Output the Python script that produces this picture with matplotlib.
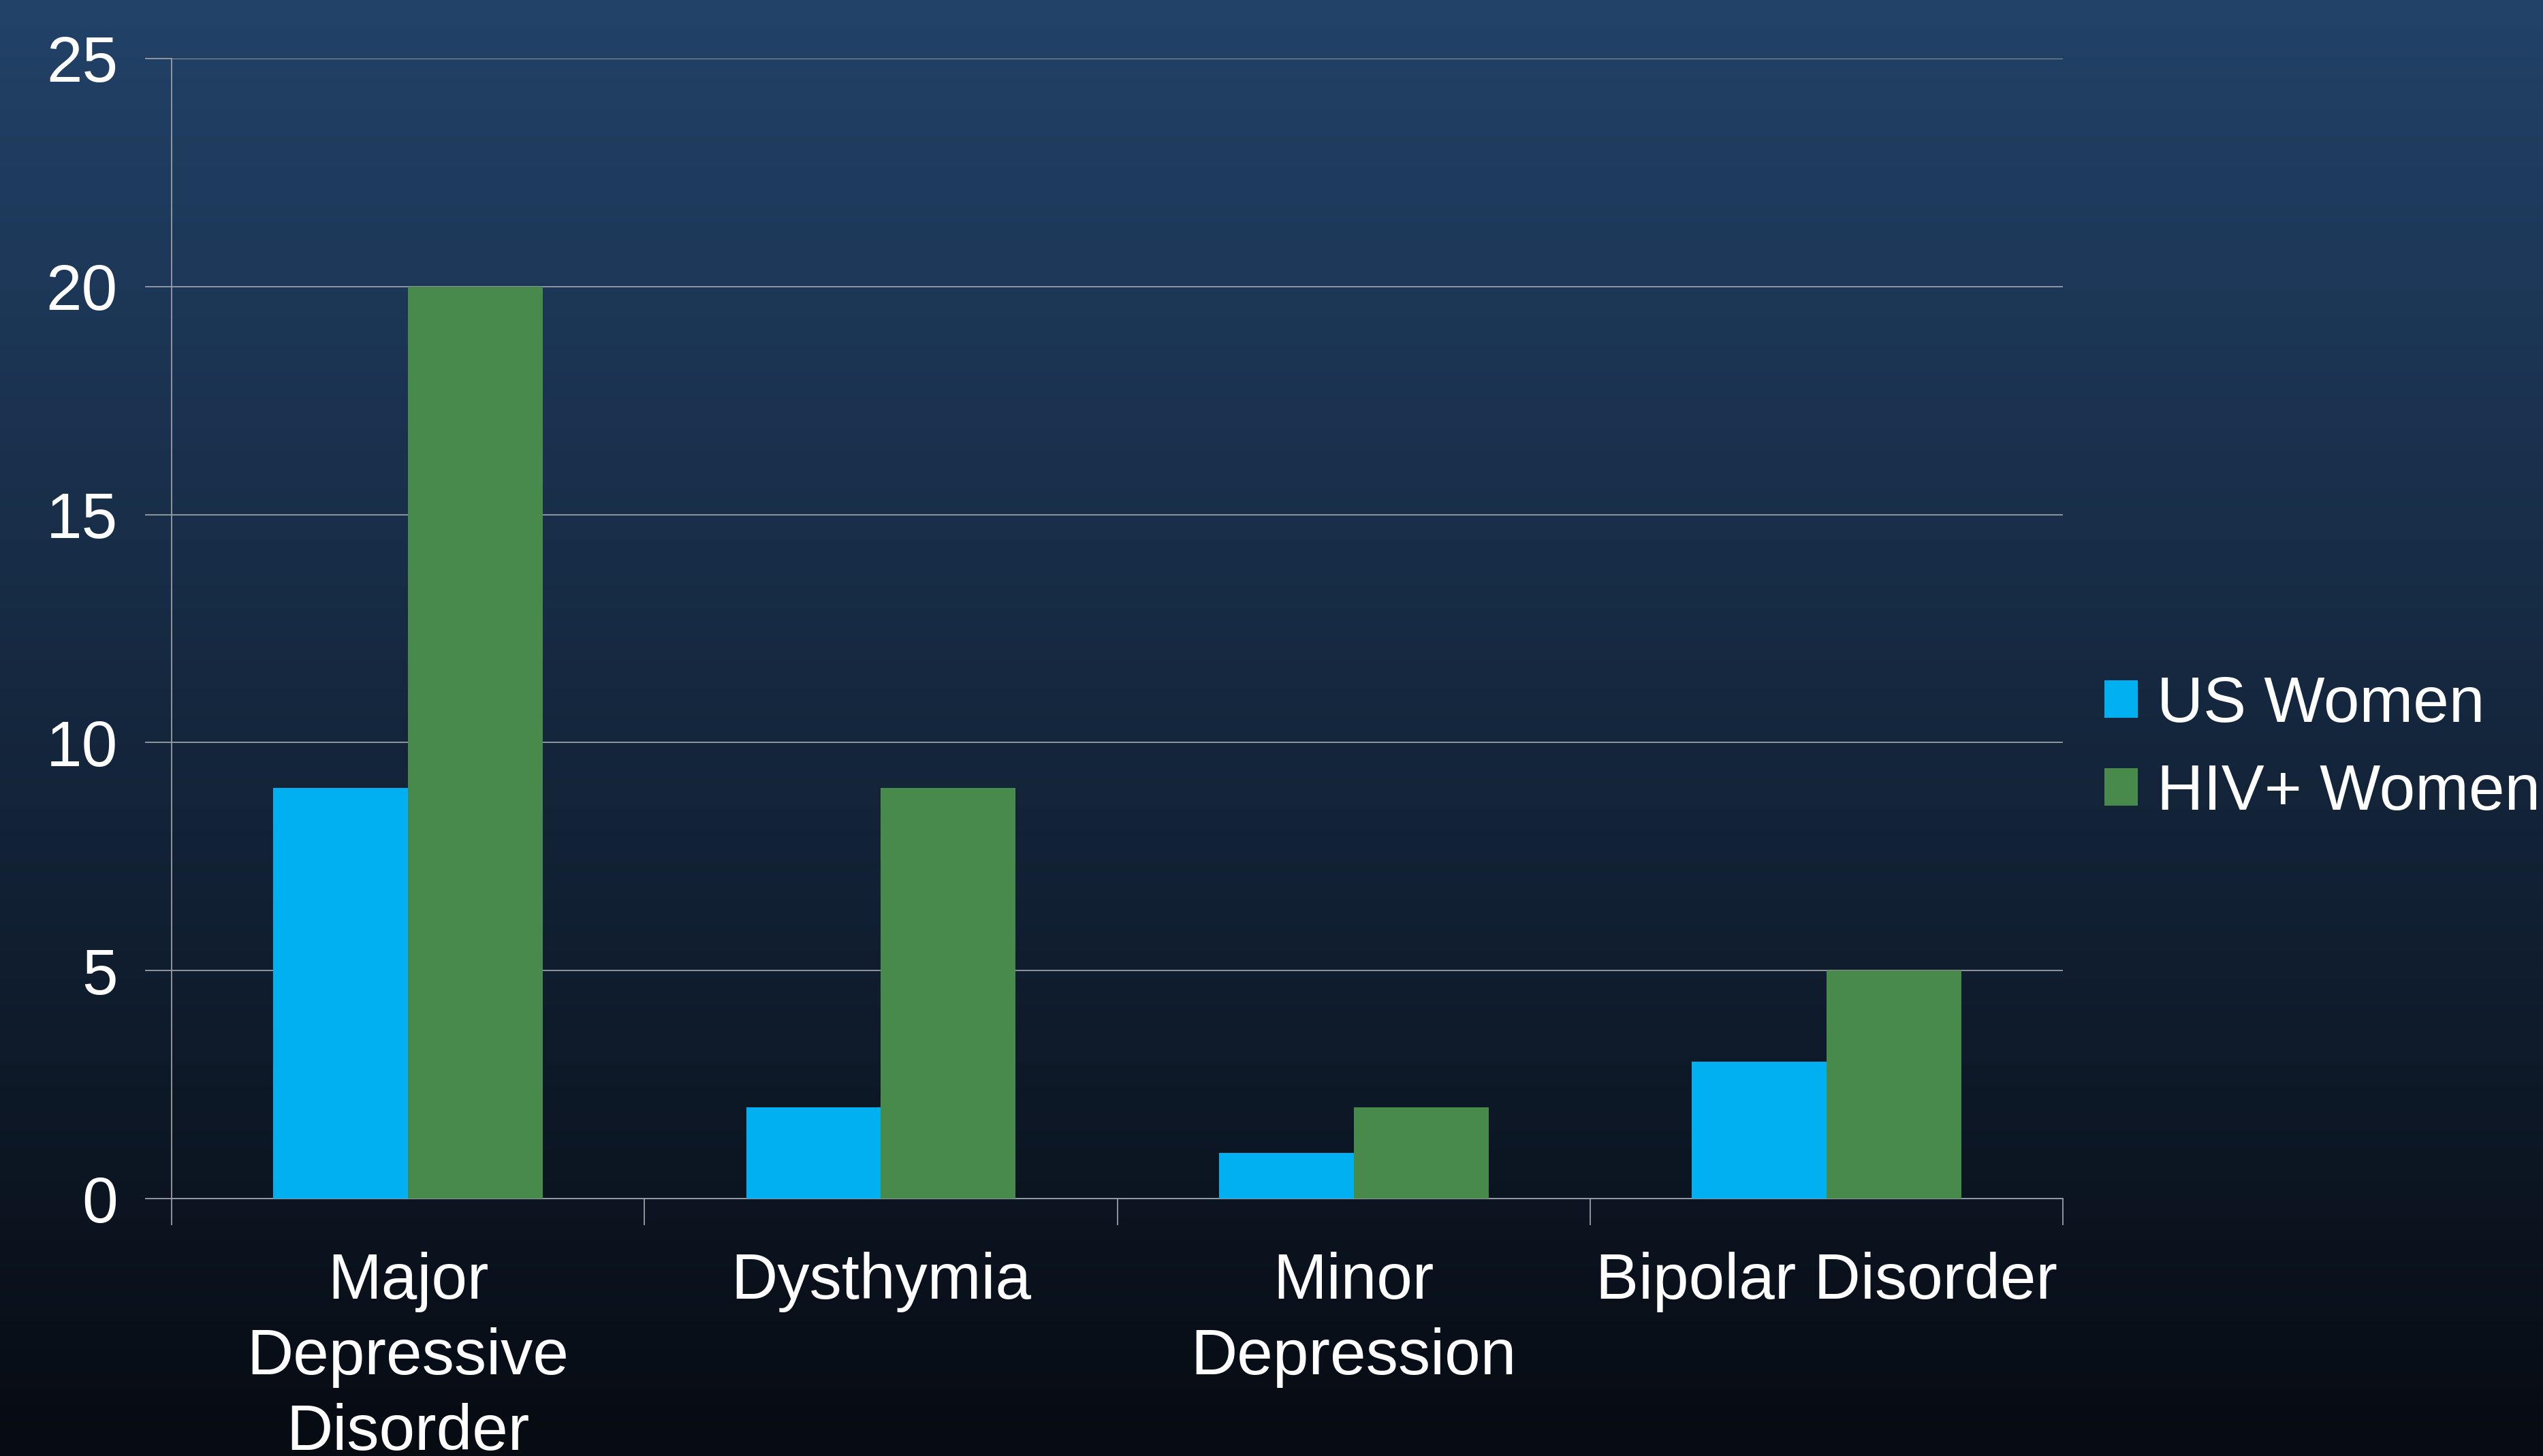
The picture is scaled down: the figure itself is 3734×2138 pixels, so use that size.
import numpy as np
import matplotlib
matplotlib.use('Agg')
import matplotlib.pyplot as plt
from matplotlib.colors import LinearSegmentedColormap

# data
categories = ['Major\nDepressive\nDisorder', 'Dysthymia', 'Minor\nDepression', 'Bipolar Disorder']
us_women = [9, 2, 1, 3]
hiv_women = [20, 9, 2, 5]
series_names = ['US Women', 'HIV+ Women']
y_ticks = [0, 5, 10, 15, 20, 25]

plt.rcParams['font.family'] = ['Liberation Sans', 'DejaVu Sans']

fig = plt.figure(figsize=(37.34, 21.38), dpi=100)

# background gradient (dark blue at top to near black at bottom)
bg = fig.add_axes([0, 0, 1, 1], zorder=-10)
grad = LinearSegmentedColormap.from_list('bg', ['#070b12', '#224268'])
bg.imshow(np.linspace(0, 1, 256).reshape(-1, 1), cmap=grad, aspect='auto',
          origin='lower', extent=[0, 1, 0, 1])
bg.axis('off')

ax = fig.add_axes([0.0675, 0.1768, 0.7437, 0.783])
ax.patch.set_alpha(0)

x = np.arange(len(categories))
w = 0.285
ax.bar(x - w / 2, us_women, w, color='#00b0f0', label=series_names[0], zorder=3)
ax.bar(x + w / 2, hiv_women, w, color='#478a4c', label=series_names[1], zorder=3)

ax.set_xlim(-0.5, len(categories) - 0.5)
ax.set_ylim(0, 25)
ax.set_yticks(y_ticks)
ax.yaxis.grid(True, color='#9a9ea6', linewidth=1.3, zorder=0)

# category ticks at the boundaries, labels centred
ax.set_xticks(x)
ax.set_xticklabels(categories, fontsize=68, color='white', linespacing=1.32)
ax.set_xticks(np.arange(-0.5, len(categories)), minor=True)
ax.tick_params(axis='x', which='major', length=0, pad=56)
ax.tick_params(axis='x', which='minor', length=28, width=1.3, color='#9a9ea6')
ax.tick_params(axis='y', length=28, width=1.3, color='#9a9ea6',
               labelsize=68, labelcolor='white', pad=29)

for s in ['top', 'right']:
    ax.spines[s].set_visible(False)
for s in ['left', 'bottom']:
    ax.spines[s].set_color('#9a9ea6')
    ax.spines[s].set_linewidth(1.3)

leg = ax.legend(loc='center left', bbox_to_anchor=(0.8275, 0.4855),
                bbox_transform=fig.transFigure, frameon=False, fontsize=68,
                handlelength=0.52, handleheight=0.52, handletextpad=0.3,
                labelspacing=0.42, borderpad=0, borderaxespad=0)
for t in leg.get_texts():
    t.set_color('white')

fig.savefig('out.png', dpi=100)
